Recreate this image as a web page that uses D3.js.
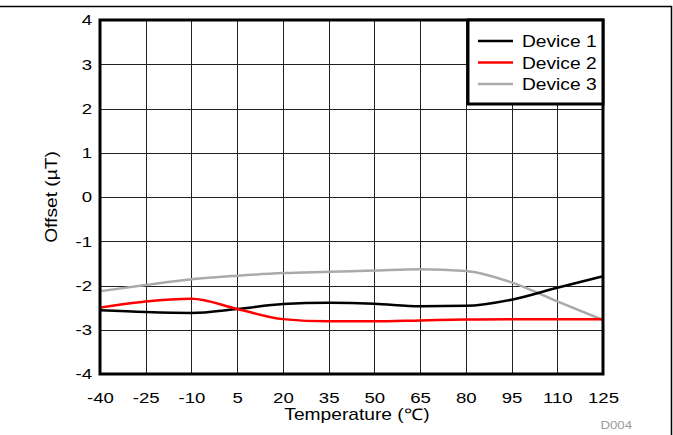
<!DOCTYPE html>
<html lang="en">
  <head>
    <meta charset="UTF-8" />
    <title>Offset vs Temperature</title>
    <script src="https://d3js.org/d3.v7.min.js"></script>
    <style>
      body { margin: 0; background: #fff; }
      text { font-family: "Liberation Sans", Arial, sans-serif; }
    </style>
  </head>
  <body>
    <svg width="673" height="435"></svg>
  </body>

  <script>
    // 数据
    var temps = [-40, -25, -10, 5, 20, 35, 50, 65, 80, 95, 110, 125]
    var device1 = [-2.56, -2.6, -2.62, -2.53, -2.42, -2.39, -2.41, -2.47, -2.46, -2.32, -2.05, -1.79]
    var device2 = [-2.5, -2.36, -2.3, -2.53, -2.76, -2.81, -2.81, -2.79, -2.77, -2.76, -2.76, -2.76]
    var device3 = [-2.13, -1.99, -1.86, -1.78, -1.72, -1.69, -1.66, -1.63, -1.67, -1.93, -2.36, -2.78]
    var seriesNames = ['Device 1', 'Device 2', 'Device 3']
    var seriesColors = ['#000000', '#ff0000', '#aaaaaa']
    var yTicks = [-4, -3, -2, -1, 0, 1, 2, 3, 4]

    var svg = d3.select('svg')
    var pLeft = 100, pRight = 603, pTop = 20, pBottom = 374
    var sx = 1.2 // 原图文字偏宽

    var x = d3.scaleLinear().domain([-40, 125]).range([pLeft, pRight])
    var y = d3.scaleLinear().domain([-4, 4]).range([pBottom, pTop])

    // 在(tx,ty)处写一个横向拉宽的文字
    function wideText(parent, tx, ty, str, size, anchor) {
      return parent.append('text')
        .attr('transform', 'translate(' + tx + ',' + ty + ') scale(' + sx + ',1)')
        .attr('text-anchor', anchor || 'start')
        .attr('font-size', size)
        .text(str)
    }

    // 外框
    svg.append('path')
      .attr('d', 'M0,6.5H671.5V435')
      .attr('fill', 'none')
      .attr('stroke', '#000')
      .attr('stroke-width', 1.5)

    // 网格
    var grid = svg.append('g')
    grid.selectAll('.vg')
      .data(temps)
      .enter()
      .append('line')
      .attr('x1', function (d) { return Math.round(x(d)) + 0.5 })
      .attr('x2', function (d) { return Math.round(x(d)) + 0.5 })
      .attr('y1', pTop)
      .attr('y2', pBottom)
      .attr('stroke', '#222')
      .attr('stroke-width', 1)
    grid.selectAll('.hg')
      .data(yTicks)
      .enter()
      .append('line')
      .attr('y1', function (d) { return Math.round(y(d)) + 0.5 })
      .attr('y2', function (d) { return Math.round(y(d)) + 0.5 })
      .attr('x1', pLeft)
      .attr('x2', pRight)
      .attr('stroke', '#222')
      .attr('stroke-width', 1)

    // 坐标轴文字
    var fmt = function (d) { return String(d) }
    var xAxis = d3.axisBottom(x).tickValues(temps).tickFormat(fmt).tickSize(0).tickPadding(0)
    svg.append('g')
      .attr('transform', 'translate(0,' + pBottom + ')')
      .call(xAxis)
      .call(function (g) { g.select('.domain').remove() })
      .selectAll('text')
      .attr('y', 0)
      .attr('dy', 0)
      .attr('transform', 'translate(0,29) scale(' + sx + ',1)')
      .attr('font-size', 15.5)
      .attr('font-family', '"Liberation Sans", Arial, sans-serif')
      .attr('fill', '#000')

    var yAxis = d3.axisLeft(y).tickValues(yTicks).tickFormat(fmt).tickSize(0).tickPadding(0)
    svg.append('g')
      .attr('transform', 'translate(' + pLeft + ',0)')
      .call(yAxis)
      .call(function (g) { g.select('.domain').remove() })
      .selectAll('text')
      .attr('x', 0)
      .attr('transform', 'translate(-8,0) scale(' + sx + ',1)')
      .attr('font-size', 15.5)
      .attr('font-family', '"Liberation Sans", Arial, sans-serif')
      .attr('fill', '#000')

    // 曲线
    var line = d3.line()
      .x(function (d) { return x(d[0]) })
      .y(function (d) { return y(d[1]) })
      .curve(d3.curveMonotoneX)

    var allSeries = [device1, device2, device3]
    var drawOrder = [2, 0, 1]
    drawOrder.forEach(function (i) {
      svg.append('path')
        .datum(temps.map(function (t, j) { return [t, allSeries[i][j]] }))
        .attr('d', line)
        .attr('fill', 'none')
        .attr('stroke', seriesColors[i])
        .attr('stroke-width', 2.5)
    })

    // 图框
    svg.append('rect')
      .attr('x', pLeft)
      .attr('y', pTop)
      .attr('width', pRight - pLeft)
      .attr('height', pBottom - pTop)
      .attr('fill', 'none')
      .attr('stroke', '#000')
      .attr('stroke-width', 3)

    // 图例
    var lg = svg.append('g')
    lg.append('rect')
      .attr('x', 468)
      .attr('y', pTop)
      .attr('width', pRight - 468)
      .attr('height', 84)
      .attr('fill', '#fff')
      .attr('stroke', '#000')
      .attr('stroke-width', 3)
    seriesNames.forEach(function (name, i) {
      var ly = 41 + i * 21.5
      lg.append('line')
        .attr('x1', 478)
        .attr('x2', 513)
        .attr('y1', ly)
        .attr('y2', ly)
        .attr('stroke', seriesColors[i])
        .attr('stroke-width', 2.5)
      wideText(lg, 522, ly + 6, name, 16)
    })

    // 轴标题
    wideText(svg, 357, 420, 'Temperature (℃)', 16, 'middle')

    svg.append('text')
      .attr('transform', 'translate(57,' + (pTop + pBottom) / 2 + ') rotate(-90) scale(' + sx + ',1)')
      .attr('text-anchor', 'middle')
      .attr('font-size', 16)
      .text('Offset (µT)')

    wideText(svg, 632, 429, 'D004', 11, 'end').attr('fill', '#999')
  </script>
</html>
